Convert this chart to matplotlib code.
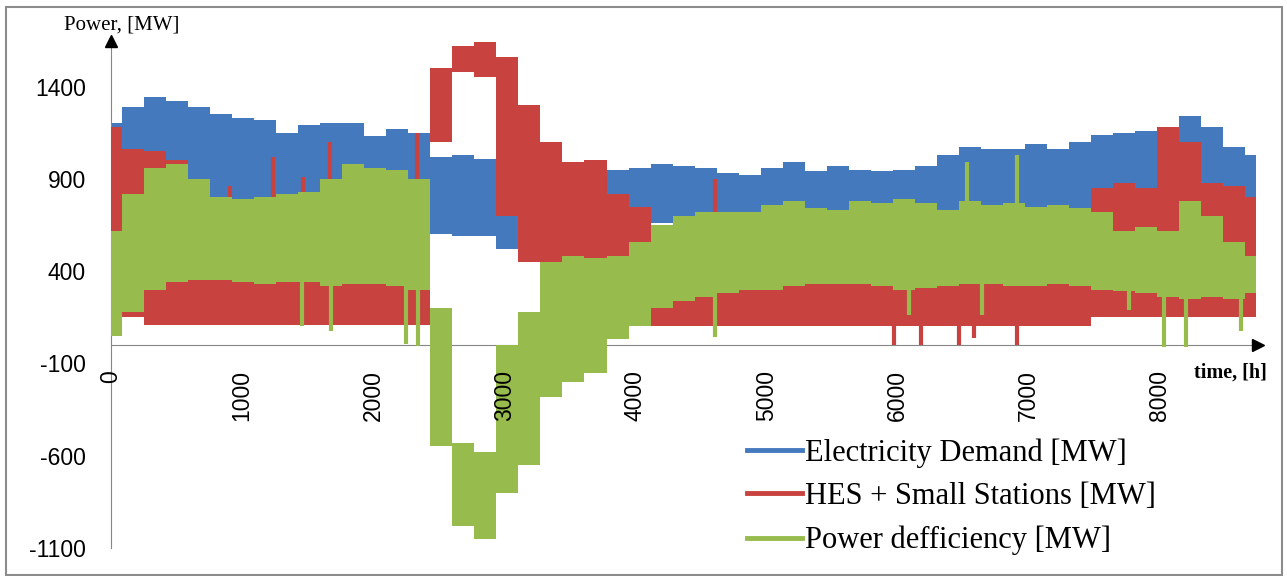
import matplotlib.pyplot as plt
import matplotlib.patches as patches
from matplotlib.lines import Line2D
import numpy as np

plt.rcParams['axes.unicode_minus'] = False

# weekly envelopes (one value per 168 h, week 0..52)
blue_hi = [1200, 1290, 1345, 1320, 1290, 1250, 1230, 1220, 1150, 1190, 1200, 1200, 1130, 1170, 1150,
           1020, 1030, 1010, 830, 900, 950, 950, 950, 950, 960, 980, 970, 960, 930, 920,
           960, 990, 940, 970, 950, 940, 950, 970, 1030, 1070, 1060, 1060, 1090, 1060, 1100,
           1140, 1150, 1160, 1180, 1240, 1180, 1070, 1030]
blue_lo = [700, 720, 720, 720, 720, 720, 720, 720, 720, 720, 720, 720, 720, 720, 720,
           600, 590, 590, 520, 620, 620, 620, 620, 660, 660, 660, 660, 660, 660, 660,
           660, 660, 660, 660, 660, 660, 690, 690, 690, 690, 690, 690, 690, 690, 690,
           720, 720, 720, 720, 720, 720, 720, 720]

red_hi = [1180, 1060, 1050, 1000, 540, 520, 500, 480, 460, 440, 520, 520, 520, 550, 600,
          1500, 1620, 1640, 1560, 1300, 1100, 990, 1000, 820, 750, 650, 700, 650, 480, 450,
          440, 430, 430, 440, 440, 440, 430, 440, 440, 430, 430, 420, 440, 430, 450,
          850, 880, 850, 1180, 1100, 880, 860, 800]
red_lo = [370, 150, 110, 110, 110, 110, 110, 110, 110, 110, 110, 110, 110, 110, 110,
          1100, 1480, 1450, 700, 450, 400, 320, 340, 250, 100, 100, 100, 100, 100, 100,
          100, 100, 100, 100, 100, 100, 100, 100, 100, 100, 100, 100, 100, 100, 100,
          150, 150, 150, 150, 150, 150, 150, 150]

green_hi = [620, 820, 960, 980, 900, 800, 790, 800, 820, 830, 900, 980, 960, 950, 900,
            200, -530, -580, 0, 180, 450, 480, 470, 480, 560, 650, 700, 720, 720, 720,
            760, 780, 740, 730, 780, 770, 790, 770, 730, 780, 760, 770, 750, 760, 740,
            720, 620, 640, 620, 780, 700, 560, 480]
green_lo = [50, 180, 300, 340, 350, 350, 340, 330, 340, 340, 320, 330, 330, 320, 300,
            -550, -980, -1050, -800, -650, -280, -200, -150, 30, 100, 200, 240, 260, 280, 300,
            300, 320, 330, 330, 330, 320, 300, 310, 320, 330, 330, 320, 320, 330, 320,
            300, 290, 280, 260, 250, 260, 250, 280]

# single-hour spikes that stick out of the bands
red_spike_h = [907, 1235, 1463, 1670, 2332, 4604]
red_spike_v = [860, 1020, 910, 1100, 1150, 900]
red_dip_h = [5976, 6180, 6470, 6585, 6913]
red_dip_v = [0, 0, 0, 40, 0]
green_spike_h = [6532, 6913]
green_spike_v = [990, 1030]
green_dip_h = [1456, 1677, 2248, 2340, 4604, 6090, 6646, 7767, 8034, 8201, 8620]
green_dip_v = [100, 75, 5, -5, 45, 160, 160, 190, -10, -10, 75]

labels = ['Electricity Demand [MW]', 'HES + Small Stations [MW]', 'Power defficiency [MW]']
BLUE, RED, GREEN = '#4479BE', '#C8433F', '#97BC4D'

hours = np.arange(len(blue_hi)) * 168

fig = plt.figure(figsize=(12.87, 5.76), dpi=100)
ax = fig.add_axes([111/1287, 28/576, 1147/1287, 506.7/576])


def band(hi, lo, color, z):
    ax.fill_between(hours, lo, hi, step='mid', color=color, lw=0, zorder=z)


def spikes(h, v, ref, color, z):
    base = [ref[int(round(x / 168))] for x in h]
    ax.vlines(h, base, v, color=color, lw=3, zorder=z)


band(blue_hi, blue_lo, BLUE, 2)
band(red_hi, red_lo, RED, 3)
spikes(red_spike_h, red_spike_v, red_hi, RED, 3)
spikes(red_dip_h, red_dip_v, red_lo, RED, 3)
band(green_hi, green_lo, GREEN, 4)
spikes(green_spike_h, green_spike_v, green_hi, GREEN, 4)
spikes(green_dip_h, green_dip_v, green_lo, GREEN, 4)

ax.set_xlim(0, 8750)
ax.set_ylim(-1100, 1645)
ax.set_xticks(range(0, 9000, 1000))
ax.set_yticks([1400, 900, 400, -100, -600, -1100])

for s in ['top', 'right']:
    ax.spines[s].set_visible(False)
ax.spines['left'].set_color('#868686')
ax.spines['bottom'].set_color('#868686')
ax.spines['bottom'].set_position(('data', 0))
ax.spines['bottom'].set_zorder(1)
ax.xaxis.set_zorder(10)

ax.tick_params(axis='y', length=0, pad=18, labelsize=16.5)
ax.tick_params(axis='x', length=0, pad=18, labelsize=16.5, labelrotation=90)
for t in ax.get_xticklabels() + ax.get_yticklabels():
    t.set_family('Liberation Sans')

# axis arrows
ax.plot(0, 1, marker='^', color='black', ms=9, transform=ax.transAxes, clip_on=False, zorder=6)
ax.plot(1, 0, marker='>', color='black', ms=9, transform=ax.get_yaxis_transform(), clip_on=False, zorder=6)

fig.text(122/1287, 1 - 25/576, 'Power, [MW]', ha='center', va='center',
         family='Liberation Serif', fontsize=15)
fig.text(1230/1287, 1 - 373/576, 'time, [h]', ha='center', va='center',
         family='Liberation Serif', fontsize=14.5, fontweight='bold')

handles = [Line2D([], [], color=c, lw=3.5) for c in (BLUE, RED, GREEN)]
leg = ax.legend(handles, labels, loc='upper left', bbox_to_anchor=(747/1287, 1 - 438/576),
                bbox_transform=fig.transFigure, frameon=False,
                prop={'family': 'Liberation Serif', 'size': 22},
                handlelength=1.8, handletextpad=0.1, borderpad=0, borderaxespad=0, labelspacing=0.48)
leg.set_zorder(12)

fig.add_artist(patches.Rectangle((6/1287, 1/576), 1276/1287, 568/576, transform=fig.transFigure,
                                 fill=False, edgecolor='#8c8c8c', lw=1.5))

fig.savefig('out.png', dpi=100)
